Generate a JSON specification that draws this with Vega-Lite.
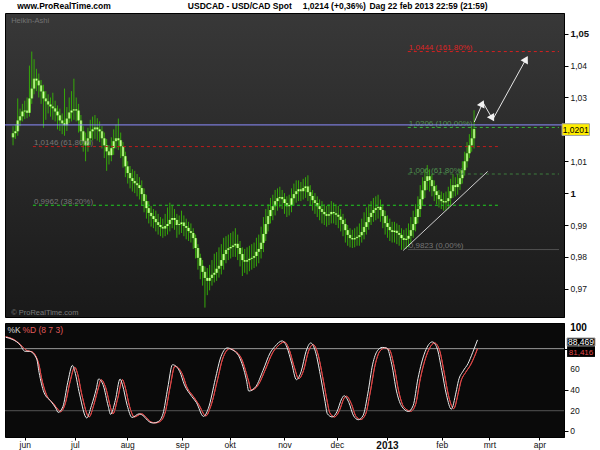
{
"$schema": "https://vega.github.io/schema/vega-lite/v6.json",
"background": "#ffffff",
"padding": {"left": 3, "top": 1, "right": 2, "bottom": 0},
"spacing": 4,
"config": {"view": {"stroke": null}, "text": {"font": "Liberation Sans"}, "axis": {"labelOverlap": false, "labelBound": false}},
"datasets": {
"ha": [
{"i":-7,"o":1.0175,"h":1.021,"l":1.015,"c":1.0188},
{"i":-6,"o":1.0188,"h":1.0215,"l":1.017,"c":1.0194},
{"i":-5,"o":1.0194,"h":1.0297,"l":1.018,"c":1.0228},
{"i":-4,"o":1.0228,"h":1.0265,"l":1.021,"c":1.0241},
{"i":-3,"o":1.0241,"h":1.028,"l":1.0225,"c":1.0256},
{"i":-2,"o":1.0256,"h":1.029,"l":1.0232,"c":1.0259},
{"i":-1,"o":1.0259,"h":1.03,"l":1.0235,"c":1.0252},
{"i":0,"o":1.0252,"h":1.04,"l":1.024,"c":1.0297},
{"i":1,"o":1.0297,"h":1.0444,"l":1.028,"c":1.0328},
{"i":2,"o":1.0328,"h":1.042,"l":1.031,"c":1.0359},
{"i":3,"o":1.0359,"h":1.039,"l":1.032,"c":1.0353},
{"i":4,"o":1.0353,"h":1.0375,"l":1.03,"c":1.0338},
{"i":5,"o":1.0338,"h":1.0355,"l":1.028,"c":1.0319},
{"i":6,"o":1.0319,"h":1.034,"l":1.0205,"c":1.0297},
{"i":7,"o":1.0297,"h":1.032,"l":1.023,"c":1.0288},
{"i":8,"o":1.0288,"h":1.031,"l":1.025,"c":1.0278},
{"i":9,"o":1.0278,"h":1.03,"l":1.024,"c":1.0272},
{"i":10,"o":1.0272,"h":1.0315,"l":1.023,"c":1.0266},
{"i":11,"o":1.0266,"h":1.029,"l":1.0225,"c":1.0256},
{"i":12,"o":1.0256,"h":1.0275,"l":1.02,"c":1.0244},
{"i":13,"o":1.0244,"h":1.0265,"l":1.0195,"c":1.0228},
{"i":14,"o":1.0228,"h":1.025,"l":1.0185,"c":1.0219},
{"i":15,"o":1.0219,"h":1.0328,"l":1.018,"c":1.0213},
{"i":16,"o":1.0213,"h":1.027,"l":1.0195,"c":1.0234},
{"i":17,"o":1.0234,"h":1.03,"l":1.022,"c":1.0253},
{"i":18,"o":1.0253,"h":1.032,"l":1.0225,"c":1.0259},
{"i":19,"o":1.0259,"h":1.0359,"l":1.023,"c":1.0263},
{"i":20,"o":1.0263,"h":1.03,"l":1.0225,"c":1.0259},
{"i":21,"o":1.0259,"h":1.028,"l":1.019,"c":1.0228},
{"i":22,"o":1.0228,"h":1.0245,"l":1.015,"c":1.0194},
{"i":23,"o":1.0194,"h":1.021,"l":1.013,"c":1.0163},
{"i":24,"o":1.0163,"h":1.019,"l":1.01,"c":1.015},
{"i":25,"o":1.015,"h":1.0205,"l":1.013,"c":1.0172},
{"i":26,"o":1.0172,"h":1.023,"l":1.015,"c":1.0194},
{"i":27,"o":1.0194,"h":1.024,"l":1.0165,"c":1.02},
{"i":28,"o":1.02,"h":1.0245,"l":1.017,"c":1.0206},
{"i":29,"o":1.0206,"h":1.0235,"l":1.0165,"c":1.02},
{"i":30,"o":1.02,"h":1.0225,"l":1.016,"c":1.0194},
{"i":31,"o":1.0194,"h":1.021,"l":1.014,"c":1.0172},
{"i":32,"o":1.0172,"h":1.019,"l":1.011,"c":1.015},
{"i":33,"o":1.015,"h":1.017,"l":1.007,"c":1.0131},
{"i":34,"o":1.0131,"h":1.015,"l":1.009,"c":1.0119},
{"i":35,"o":1.0119,"h":1.0175,"l":1.01,"c":1.0141},
{"i":36,"o":1.0141,"h":1.02,"l":1.012,"c":1.0163},
{"i":37,"o":1.0163,"h":1.0215,"l":1.014,"c":1.0172},
{"i":38,"o":1.0172,"h":1.0234,"l":1.0135,"c":1.0166},
{"i":39,"o":1.0166,"h":1.019,"l":1.011,"c":1.0147},
{"i":40,"o":1.0147,"h":1.016,"l":1.008,"c":1.0116},
{"i":41,"o":1.0116,"h":1.013,"l":1.005,"c":1.0084},
{"i":42,"o":1.0084,"h":1.01,"l":1.003,"c":1.0063},
{"i":43,"o":1.0063,"h":1.0085,"l":1.0015,"c":1.0047},
{"i":44,"o":1.0047,"h":1.0075,"l":1.0005,"c":1.0038},
{"i":45,"o":1.0038,"h":1.007,"l":1.0,"c":1.0031},
{"i":46,"o":1.0031,"h":1.006,"l":0.999,"c":1.0025},
{"i":47,"o":1.0025,"h":1.005,"l":0.998,"c":1.0016},
{"i":48,"o":1.0016,"h":1.004,"l":0.996,"c":0.9997},
{"i":49,"o":0.9997,"h":1.0015,"l":0.994,"c":0.9975},
{"i":50,"o":0.9975,"h":0.9995,"l":0.992,"c":0.9953},
{"i":51,"o":0.9953,"h":0.9975,"l":0.9905,"c":0.9938},
{"i":52,"o":0.9938,"h":0.996,"l":0.9895,"c":0.9928},
{"i":53,"o":0.9928,"h":0.995,"l":0.989,"c":0.9919},
{"i":54,"o":0.9919,"h":0.9945,"l":0.988,"c":0.9909},
{"i":55,"o":0.9909,"h":0.9935,"l":0.987,"c":0.99},
{"i":56,"o":0.99,"h":0.9925,"l":0.9865,"c":0.9894},
{"i":57,"o":0.9894,"h":0.992,"l":0.986,"c":0.9889},
{"i":58,"o":0.9889,"h":0.9935,"l":0.9865,"c":0.9897},
{"i":59,"o":0.9897,"h":0.9955,"l":0.987,"c":0.9903},
{"i":60,"o":0.9903,"h":0.997,"l":0.988,"c":0.9916},
{"i":61,"o":0.9916,"h":0.996,"l":0.989,"c":0.9922},
{"i":62,"o":0.9922,"h":0.995,"l":0.9885,"c":0.9916},
{"i":63,"o":0.9916,"h":0.9935,"l":0.986,"c":0.99},
{"i":64,"o":0.99,"h":0.993,"l":0.987,"c":0.9903},
{"i":65,"o":0.9903,"h":0.9945,"l":0.9875,"c":0.9908},
{"i":66,"o":0.9908,"h":0.993,"l":0.9865,"c":0.9897},
{"i":67,"o":0.9897,"h":0.992,"l":0.9855,"c":0.9891},
{"i":68,"o":0.9891,"h":0.991,"l":0.985,"c":0.9881},
{"i":69,"o":0.9881,"h":0.9905,"l":0.9845,"c":0.9875},
{"i":70,"o":0.9875,"h":0.989,"l":0.9825,"c":0.9859},
{"i":71,"o":0.9859,"h":0.987,"l":0.9795,"c":0.9828},
{"i":72,"o":0.9828,"h":0.984,"l":0.976,"c":0.9797},
{"i":73,"o":0.9797,"h":0.981,"l":0.973,"c":0.9772},
{"i":74,"o":0.9772,"h":0.979,"l":0.971,"c":0.9753},
{"i":75,"o":0.9753,"h":0.977,"l":0.9641,"c":0.9734},
{"i":76,"o":0.9734,"h":0.9765,"l":0.968,"c":0.9725},
{"i":77,"o":0.9725,"h":0.9775,"l":0.9695,"c":0.9734},
{"i":78,"o":0.9734,"h":0.979,"l":0.971,"c":0.9744},
{"i":79,"o":0.9744,"h":0.981,"l":0.972,"c":0.975},
{"i":80,"o":0.975,"h":0.9815,"l":0.9725,"c":0.9763},
{"i":81,"o":0.9763,"h":0.983,"l":0.9735,"c":0.9772},
{"i":82,"o":0.9772,"h":0.984,"l":0.9745,"c":0.979},
{"i":83,"o":0.979,"h":0.986,"l":0.976,"c":0.9809},
{"i":84,"o":0.9809,"h":0.9865,"l":0.978,"c":0.9822},
{"i":85,"o":0.9822,"h":0.987,"l":0.979,"c":0.9827},
{"i":86,"o":0.9827,"h":0.9875,"l":0.9795,"c":0.9831},
{"i":87,"o":0.9831,"h":0.988,"l":0.98,"c":0.9836},
{"i":88,"o":0.9836,"h":0.989,"l":0.98,"c":0.9841},
{"i":89,"o":0.9841,"h":0.987,"l":0.979,"c":0.9828},
{"i":90,"o":0.9828,"h":0.985,"l":0.977,"c":0.9809},
{"i":91,"o":0.9809,"h":0.983,"l":0.974,"c":0.979},
{"i":92,"o":0.979,"h":0.9825,"l":0.975,"c":0.9785},
{"i":93,"o":0.9785,"h":0.983,"l":0.9745,"c":0.979},
{"i":94,"o":0.979,"h":0.9835,"l":0.9755,"c":0.9794},
{"i":95,"o":0.9794,"h":0.984,"l":0.976,"c":0.9797},
{"i":96,"o":0.9797,"h":0.9845,"l":0.9765,"c":0.9803},
{"i":97,"o":0.9803,"h":0.986,"l":0.977,"c":0.9816},
{"i":98,"o":0.9816,"h":0.987,"l":0.978,"c":0.9825},
{"i":99,"o":0.9825,"h":0.9895,"l":0.9795,"c":0.9844},
{"i":100,"o":0.9844,"h":0.9925,"l":0.9815,"c":0.9872},
{"i":101,"o":0.9872,"h":0.995,"l":0.985,"c":0.9903},
{"i":102,"o":0.9903,"h":0.9965,"l":0.988,"c":0.9928},
{"i":103,"o":0.9928,"h":0.9985,"l":0.9905,"c":0.9947},
{"i":104,"o":0.9947,"h":0.9995,"l":0.9915,"c":0.9959},
{"i":105,"o":0.9959,"h":1.001,"l":0.993,"c":0.9975},
{"i":106,"o":0.9975,"h":1.0015,"l":0.9945,"c":0.9984},
{"i":107,"o":0.9984,"h":1.002,"l":0.9955,"c":0.9988},
{"i":108,"o":0.9988,"h":1.001,"l":0.995,"c":0.9981},
{"i":109,"o":0.9981,"h":1.0,"l":0.9935,"c":0.9969},
{"i":110,"o":0.9969,"h":0.999,"l":0.9925,"c":0.9959},
{"i":111,"o":0.9959,"h":0.9995,"l":0.993,"c":0.9963},
{"i":112,"o":0.9963,"h":1.0015,"l":0.994,"c":0.9984},
{"i":113,"o":0.9984,"h":1.003,"l":0.996,"c":0.9997},
{"i":114,"o":0.9997,"h":1.004,"l":0.997,"c":1.0006},
{"i":115,"o":1.0006,"h":1.004,"l":0.9975,"c":1.0012},
{"i":116,"o":1.0012,"h":1.0035,"l":0.9975,"c":1.0006},
{"i":117,"o":1.0006,"h":1.0045,"l":0.998,"c":1.0016},
{"i":118,"o":1.0016,"h":1.005,"l":0.9985,"c":1.0021},
{"i":119,"o":1.0021,"h":1.0056,"l":0.9975,"c":1.0003},
{"i":120,"o":1.0003,"h":1.0025,"l":0.996,"c":0.9991},
{"i":121,"o":0.9991,"h":1.001,"l":0.9945,"c":0.9978},
{"i":122,"o":0.9978,"h":1.0,"l":0.9935,"c":0.9969},
{"i":123,"o":0.9969,"h":0.999,"l":0.9925,"c":0.9959},
{"i":124,"o":0.9959,"h":0.998,"l":0.9915,"c":0.995},
{"i":125,"o":0.995,"h":0.9975,"l":0.9905,"c":0.9941},
{"i":126,"o":0.9941,"h":0.9965,"l":0.99,"c":0.9934},
{"i":127,"o":0.9934,"h":0.996,"l":0.9895,"c":0.9929},
{"i":128,"o":0.9929,"h":0.9965,"l":0.99,"c":0.9934},
{"i":129,"o":0.9934,"h":0.9975,"l":0.9905,"c":0.9941},
{"i":130,"o":0.9941,"h":0.997,"l":0.9905,"c":0.9937},
{"i":131,"o":0.9937,"h":0.9965,"l":0.99,"c":0.9932},
{"i":132,"o":0.9932,"h":0.996,"l":0.989,"c":0.9926},
{"i":133,"o":0.9926,"h":0.995,"l":0.988,"c":0.9916},
{"i":134,"o":0.9916,"h":0.9935,"l":0.9865,"c":0.9903},
{"i":135,"o":0.9903,"h":0.992,"l":0.9845,"c":0.9884},
{"i":136,"o":0.9884,"h":0.99,"l":0.9835,"c":0.9869},
{"i":137,"o":0.9869,"h":0.989,"l":0.983,"c":0.9859},
{"i":138,"o":0.9859,"h":0.9885,"l":0.9828,"c":0.9855},
{"i":139,"o":0.9855,"h":0.989,"l":0.983,"c":0.9859},
{"i":140,"o":0.9859,"h":0.9895,"l":0.9835,"c":0.9863},
{"i":141,"o":0.9863,"h":0.9905,"l":0.9835,"c":0.9868},
{"i":142,"o":0.9868,"h":0.992,"l":0.9845,"c":0.9878},
{"i":143,"o":0.9878,"h":0.994,"l":0.9855,"c":0.9894},
{"i":144,"o":0.9894,"h":0.9955,"l":0.987,"c":0.9909},
{"i":145,"o":0.9909,"h":0.9965,"l":0.9885,"c":0.9925},
{"i":146,"o":0.9925,"h":0.9975,"l":0.99,"c":0.9938},
{"i":147,"o":0.9938,"h":0.9985,"l":0.991,"c":0.9947},
{"i":148,"o":0.9947,"h":0.999,"l":0.9915,"c":0.9953},
{"i":149,"o":0.9953,"h":0.9995,"l":0.992,"c":0.9957},
{"i":150,"o":0.9957,"h":0.998,"l":0.991,"c":0.9947},
{"i":151,"o":0.9947,"h":0.9965,"l":0.989,"c":0.9928},
{"i":152,"o":0.9928,"h":0.9945,"l":0.987,"c":0.9906},
{"i":153,"o":0.9906,"h":0.993,"l":0.986,"c":0.9894},
{"i":154,"o":0.9894,"h":0.992,"l":0.985,"c":0.9884},
{"i":155,"o":0.9884,"h":0.991,"l":0.9845,"c":0.9878},
{"i":156,"o":0.9878,"h":0.991,"l":0.9845,"c":0.9882},
{"i":157,"o":0.9882,"h":0.9905,"l":0.984,"c":0.9875},
{"i":158,"o":0.9875,"h":0.99,"l":0.9835,"c":0.9869},
{"i":159,"o":0.9869,"h":0.989,"l":0.9822,"c":0.9859},
{"i":160,"o":0.9859,"h":0.9885,"l":0.9825,"c":0.9853},
{"i":161,"o":0.9853,"h":0.989,"l":0.9825,"c":0.9857},
{"i":162,"o":0.9857,"h":0.9905,"l":0.983,"c":0.9866},
{"i":163,"o":0.9866,"h":0.9925,"l":0.984,"c":0.9884},
{"i":164,"o":0.9884,"h":0.9945,"l":0.986,"c":0.9903},
{"i":165,"o":0.9903,"h":0.9965,"l":0.988,"c":0.9925},
{"i":166,"o":0.9925,"h":0.999,"l":0.9905,"c":0.995},
{"i":167,"o":0.995,"h":1.0025,"l":0.9925,"c":0.9981},
{"i":168,"o":0.9981,"h":1.005,"l":0.996,"c":1.0009},
{"i":169,"o":1.0009,"h":1.0075,"l":0.9985,"c":1.0038},
{"i":170,"o":1.0038,"h":1.0088,"l":1.001,"c":1.0053},
{"i":171,"o":1.0053,"h":1.0075,"l":1.0005,"c":1.0041},
{"i":172,"o":1.0041,"h":1.006,"l":0.999,"c":1.0022},
{"i":173,"o":1.0022,"h":1.004,"l":0.9975,"c":1.0006},
{"i":174,"o":1.0006,"h":1.0025,"l":0.9965,"c":0.9994},
{"i":175,"o":0.9994,"h":1.001,"l":0.9955,"c":0.9981},
{"i":176,"o":0.9981,"h":1.0005,"l":0.995,"c":0.9975},
{"i":177,"o":0.9975,"h":1.0,"l":0.9945,"c":0.9971},
{"i":178,"o":0.9971,"h":1.0005,"l":0.9945,"c":0.9975},
{"i":179,"o":0.9975,"h":1.002,"l":0.995,"c":0.9984},
{"i":180,"o":0.9984,"h":1.0045,"l":0.996,"c":1.0006},
{"i":181,"o":1.0006,"h":1.006,"l":0.9985,"c":1.0025},
{"i":182,"o":1.0025,"h":1.005,"l":0.999,"c":1.0019},
{"i":183,"o":1.0019,"h":1.006,"l":0.9995,"c":1.0028},
{"i":184,"o":1.0028,"h":1.0075,"l":1.001,"c":1.0047},
{"i":185,"o":1.0047,"h":1.01,"l":1.003,"c":1.0072},
{"i":186,"o":1.0072,"h":1.013,"l":1.0055,"c":1.01},
{"i":187,"o":1.01,"h":1.016,"l":1.008,"c":1.0125},
{"i":188,"o":1.0125,"h":1.0185,"l":1.011,"c":1.015},
{"i":189,"o":1.015,"h":1.021,"l":1.013,"c":1.0172},
{"i":190,"o":1.0172,"h":1.026,"l":1.014,"c":1.0201}
],
"fib": [
{"p":1.0444,"x1":161.7,"x2":226.3,"label":"1,0444 (161,80%)"},
{"p":1.0206,"x1":161.7,"x2":226.3,"label":"1,0206 (100,00%)"},
{"p":1.0146,"x1":1.5,"x2":200.3,"label":"1,0146 (61,80%)"},
{"p":1.006,"x1":161.7,"x2":226.3,"label":"1,006 (61,80%)"},
{"p":0.9962,"x1":1.5,"x2":200.3,"label":"0,9962 (38,20%)"},
{"p":0.9823,"x1":161.7,"x2":226.3,"label":"0,9823 (0,00%)"}
],
"arrow": [
{"i":190.1,"p":1.0223},
{"i":193.8,"p":1.02845},
{"i":198,"p":1.02311},
{"i":212.6,"p":1.04256}
],
"heads": [
{"i":193.5,"p":1.0281,"leg":"up1"},
{"i":197.8,"p":1.0235,"leg":"down"},
{"i":212.2,"p":1.0420,"leg":"up2"}
],
"stochTicks": [{"t":0},{"t":20},{"t":40},{"t":60}],
"stochK": [
{"i":-8,"v":91},{"i":-5,"v":88.7},{"i":-2,"v":83.8},{"i":0,"v":77.5},{"i":2,"v":77.4},{"i":5,"v":70},{"i":6,"v":57},{"i":8,"v":38},{"i":11,"v":29},{"i":13,"v":22.6},{"i":14,"v":18.4},{"i":16,"v":24},{"i":18,"v":47},{"i":20,"v":63.8},{"i":21,"v":58},{"i":23,"v":36},{"i":26,"v":13},{"i":28,"v":25},{"i":30,"v":41},{"i":31,"v":50.7},{"i":33,"v":44},{"i":35,"v":24.5},{"i":36,"v":16.5},{"i":38,"v":30},{"i":40,"v":50.7},{"i":41,"v":45},{"i":43,"v":25},{"i":45,"v":13.5},{"i":48,"v":17},{"i":50,"v":14.5},{"i":52,"v":9.7},{"i":54,"v":8.1},{"i":56,"v":9.5},{"i":58,"v":17},{"i":60,"v":42},{"i":62,"v":64.5},{"i":65,"v":58},{"i":67,"v":45},{"i":70,"v":34},{"i":72,"v":28},{"i":75,"v":14.5},{"i":77,"v":22},{"i":80,"v":51},{"i":82,"v":70},{"i":85,"v":80.7},{"i":87,"v":79},{"i":90,"v":72},{"i":93,"v":50},{"i":94,"v":39},{"i":97,"v":43.5},{"i":100,"v":59},{"i":103,"v":76},{"i":105,"v":82.2},{"i":108,"v":87.5},{"i":110,"v":81.5},{"i":112,"v":66},{"i":114,"v":50},{"i":116,"v":58},{"i":118,"v":77},{"i":120,"v":85.5},{"i":122,"v":77},{"i":124,"v":55},{"i":126,"v":29},{"i":127,"v":17},{"i":129,"v":14},{"i":131,"v":19},{"i":133,"v":31.5},{"i":134,"v":34.5},{"i":136,"v":28},{"i":138,"v":15},{"i":140,"v":11.3},{"i":142,"v":15.5},{"i":144,"v":37},{"i":146,"v":65},{"i":148,"v":78},{"i":150,"v":81.2},{"i":152,"v":80.5},{"i":154,"v":65},{"i":156,"v":39},{"i":158,"v":25},{"i":161,"v":19.3},{"i":163,"v":25},{"i":165,"v":51},{"i":168,"v":77},{"i":171,"v":86.5},{"i":173,"v":80.7},{"i":175,"v":59},{"i":177,"v":35},{"i":179,"v":21.5},{"i":181,"v":38},{"i":182,"v":49},{"i":184,"v":58.5},{"i":186,"v":65.5},{"i":188,"v":76.5},{"i":190,"v":88.469}
],
"stochD": [
{"i":-8,"v":91.5},{"i":-4,"v":88},{"i":-1,"v":82},{"i":1,"v":78},{"i":3,"v":77},{"i":6,"v":64},{"i":7,"v":52},{"i":9,"v":36},{"i":12,"v":27},{"i":14,"v":21},{"i":15,"v":19},{"i":17,"v":27},{"i":19,"v":48},{"i":21,"v":62},{"i":22,"v":57},{"i":24,"v":35},{"i":27,"v":14},{"i":29,"v":26},{"i":31,"v":43},{"i":32,"v":50},{"i":34,"v":42},{"i":36,"v":23},{"i":37,"v":17},{"i":39,"v":32},{"i":41,"v":50},{"i":42,"v":44},{"i":44,"v":24},{"i":46,"v":14},{"i":49,"v":17},{"i":51,"v":13.5},{"i":53,"v":9},{"i":55,"v":8.3},{"i":57,"v":10},{"i":59,"v":19},{"i":61,"v":43},{"i":63,"v":63},{"i":66,"v":56},{"i":68,"v":43},{"i":71,"v":33},{"i":73,"v":26},{"i":76,"v":15},{"i":78,"v":24},{"i":81,"v":51},{"i":83,"v":70},{"i":86,"v":80},{"i":88,"v":78},{"i":91,"v":70},{"i":94,"v":48},{"i":95,"v":40},{"i":98,"v":45},{"i":101,"v":60},{"i":104,"v":76},{"i":106,"v":82},{"i":109,"v":86.5},{"i":111,"v":79},{"i":113,"v":63},{"i":115,"v":51},{"i":117,"v":59},{"i":119,"v":77},{"i":121,"v":84},{"i":123,"v":75},{"i":125,"v":53},{"i":127,"v":28},{"i":128,"v":18},{"i":130,"v":14},{"i":132,"v":20},{"i":134,"v":32},{"i":135,"v":34},{"i":137,"v":27},{"i":139,"v":14.5},{"i":141,"v":11.5},{"i":143,"v":16.5},{"i":145,"v":38},{"i":147,"v":64},{"i":149,"v":77.5},{"i":151,"v":80.5},{"i":153,"v":79},{"i":155,"v":63},{"i":157,"v":38},{"i":159,"v":24},{"i":162,"v":19.5},{"i":164,"v":26},{"i":166,"v":51},{"i":169,"v":76},{"i":172,"v":85.5},{"i":174,"v":79},{"i":176,"v":57},{"i":178,"v":33},{"i":180,"v":22},{"i":182,"v":38},{"i":183,"v":48},{"i":185,"v":57},{"i":187,"v":64},{"i":189,"v":74},{"i":190,"v":80}
]
},
"vconcat": [
{
"width": 559, "height": 304,
"view": {"fill": {"gradient": "linear", "x1": 0, "y1": 0, "x2": 0, "y2": 1, "stops": [{"offset": 0, "color": "#383838"}, {"offset": 1, "color": "#191919"}]}, "stroke": "#000000"},
"layer": [
{"data": {"name": "ha"}, "mark": {"type": "rule", "color": "#35a80a", "strokeWidth": 1},
 "encoding": {
  "x": {"field": "i", "type": "quantitative", "scale": {"domain": [-8.3, 226.3], "nice": false, "zero": false}, "axis": null},
  "y": {"field": "l", "type": "quantitative", "title": null, "scale": {"domain": [0.96115, 1.0565], "nice": false, "zero": false},
   "axis": {"orient": "right", "title": null, "grid": false, "values": [0.97, 0.98, 0.99, 1, 1.01, 1.03, 1.04, 1.05],
    "labelExpr": "datum.value == 1 ? '1' : replace(format(datum.value, '.2f'), '.', ',')",
    "tickSize": 4, "tickColor": "#000000", "domainColor": "#000000", "labelPadding": 2, "labelOverlap": false, "labelFlush": false,
    "labelFont": "Liberation Sans", "labelColor": "#111111",
    "labelFontSize": {"condition": {"test": "datum.value == 1 || datum.value == 1.05", "value": 9.5}, "value": 8.5},
    "labelFontWeight": {"condition": {"test": "datum.value == 1 || datum.value == 1.05", "value": "bold"}, "value": "normal"}}},
  "y2": {"field": "h"}}},
{"data": {"name": "ha"}, "mark": {"type": "bar", "width": 3, "fill": {"gradient": "linear", "x1": 0, "y1": 0, "x2": 1, "y2": 0, "stops": [{"offset": 0, "color": "#3cb400"}, {"offset": 0.5, "color": "#d8ffb0"}, {"offset": 1, "color": "#3cb400"}]}},
 "encoding": {
  "x": {"field": "i", "type": "quantitative", "scale": {"domain": [-8.3, 226.3], "nice": false, "zero": false}, "axis": null},
  "y": {"field": "o", "type": "quantitative", "title": null, "scale": {"domain": [0.96115, 1.0565], "nice": false, "zero": false}},
  "y2": {"field": "c"}}},
{"data": {"name": "fib"}, "mark": {"type": "rule", "strokeWidth": 1},
 "encoding": {
  "x": {"field": "x1", "type": "quantitative", "scale": {"domain": [-8.3, 226.3], "nice": false, "zero": false}, "axis": null},
  "x2": {"field": "x2"},
  "y": {"field": "p", "type": "quantitative", "title": null, "scale": {"domain": [0.96115, 1.0565], "nice": false, "zero": false}},
  "color": {"condition": [{"test": "datum.p == 1.0444", "value": "#d42020"}, {"test": "datum.p == 1.0146", "value": "#c01c1c"}, {"test": "datum.p == 1.0206", "value": "#38b038"}, {"test": "datum.p == 1.006", "value": "#3d7d3d"}, {"test": "datum.p == 0.9962", "value": "#1fd01f"}], "value": "#5a5a5a"},
  "strokeDash": {"condition": {"test": "datum.p == 0.9823", "value": [1, 0]}, "value": [3, 3]}}},
{"data": {"name": "fib"}, "mark": {"type": "text", "align": "left", "baseline": "alphabetic", "dx": 1, "dy": -1.5, "fontSize": 8, "font": "Liberation Sans"},
 "encoding": {
  "x": {"field": "x1", "type": "quantitative", "scale": {"domain": [-8.3, 226.3], "nice": false, "zero": false}, "axis": null},
  "y": {"field": "p", "type": "quantitative", "title": null, "scale": {"domain": [0.96115, 1.0565], "nice": false, "zero": false}},
  "text": {"field": "label"},
  "color": {"condition": [{"test": "datum.p == 1.0444", "value": "#dd2424"}, {"test": "datum.p == 1.0206 || datum.p == 1.006", "value": "#4f8f4f"}], "value": "#767676"}}},
{"data": {"values": [{}]}, "mark": {"type": "rule", "color": "#8c8cff", "strokeWidth": 1},
 "encoding": {"y": {"datum": 1.0214, "type": "quantitative", "title": null, "scale": {"domain": [0.96115, 1.0565], "nice": false, "zero": false}}}},
{"data": {"values": [{}]}, "mark": {"type": "rule", "color": "#d0d0d0", "strokeWidth": 1},
 "encoding": {
  "x": {"datum": 159.7, "type": "quantitative", "scale": {"domain": [-8.3, 226.3], "nice": false, "zero": false}, "axis": null},
  "x2": {"datum": 195.8},
  "y": {"datum": 0.98202, "type": "quantitative", "title": null, "scale": {"domain": [0.96115, 1.0565], "nice": false, "zero": false}},
  "y2": {"datum": 1.0068}}},
{"data": {"name": "arrow"}, "mark": {"type": "line", "color": "#e6e6e6", "strokeWidth": 1},
 "encoding": {
  "x": {"field": "i", "type": "quantitative", "scale": {"domain": [-8.3, 226.3], "nice": false, "zero": false}, "axis": null},
  "y": {"field": "p", "type": "quantitative", "title": null, "scale": {"domain": [0.96115, 1.0565], "nice": false, "zero": false}}}},
{"data": {"name": "heads"}, "mark": {"type": "point", "shape": "triangle-up", "filled": true, "size": 70, "color": "#f2f2f2", "opacity": 1},
 "encoding": {
  "x": {"field": "i", "type": "quantitative", "scale": {"domain": [-8.3, 226.3], "nice": false, "zero": false}, "axis": null},
  "y": {"field": "p", "type": "quantitative", "title": null, "scale": {"domain": [0.96115, 1.0565], "nice": false, "zero": false}},
  "angle": {"condition": [{"test": "datum.leg == 'down'", "value": 150}, {"test": "datum.leg == 'up1'", "value": 25}], "value": 29}}},
{"data": {"values": [{}]}, "mark": {"type": "text", "align": "left", "baseline": "middle", "fontSize": 7.5, "color": "#737373", "font": "Liberation Sans"},
 "encoding": {
  "x": {"datum": -7.8, "type": "quantitative", "scale": {"domain": [-8.3, 226.3], "nice": false, "zero": false}, "axis": null},
  "y": {"datum": 1.05402, "type": "quantitative", "title": null, "scale": {"domain": [0.96115, 1.0565], "nice": false, "zero": false}},
  "text": {"value": "Heikin-Ashi"}}},
{"data": {"values": [{}]}, "mark": {"type": "text", "align": "left", "baseline": "middle", "fontSize": 7.5, "color": "#7a7a7a", "font": "Liberation Sans"},
 "encoding": {
  "x": {"datum": -7.8, "type": "quantitative", "scale": {"domain": [-8.3, 226.3], "nice": false, "zero": false}, "axis": null},
  "y": {"datum": 0.96235, "type": "quantitative", "title": null, "scale": {"domain": [0.96115, 1.0565], "nice": false, "zero": false}},
  "text": {"value": "© ProRealTime.com"}}},
{"data": {"values": [{}]}, "mark": {"type": "text", "align": "left", "baseline": "middle", "fontSize": 8.5, "fontWeight": "bold", "color": "#000000", "font": "Liberation Sans"},
 "encoding": {
  "x": {"datum": -5.2, "type": "quantitative", "scale": {"domain": [-8.3, 226.3], "nice": false, "zero": false}, "axis": null},
  "y": {"datum": 1.05856, "type": "quantitative", "title": null, "scale": {"domain": [0.96115, 1.0565], "nice": false, "zero": false}},
  "text": {"value": "www.ProRealTime.com"}}},
{"data": {"values": [{}]}, "mark": {"type": "text", "align": "left", "baseline": "middle", "fontSize": 8.5, "fontWeight": "bold", "color": "#000000", "font": "Liberation Sans"},
 "encoding": {
  "x": {"datum": 67.7, "type": "quantitative", "scale": {"domain": [-8.3, 226.3], "nice": false, "zero": false}, "axis": null},
  "y": {"datum": 1.05856, "type": "quantitative", "title": null, "scale": {"domain": [0.96115, 1.0565], "nice": false, "zero": false}},
  "text": {"value": "USDCAD - USD/CAD Spot"}}},
{"data": {"values": [{}]}, "mark": {"type": "text", "align": "left", "baseline": "middle", "fontSize": 8.5, "fontWeight": "bold", "color": "#000000", "font": "Liberation Sans"},
 "encoding": {
  "x": {"datum": 116.8, "type": "quantitative", "scale": {"domain": [-8.3, 226.3], "nice": false, "zero": false}, "axis": null},
  "y": {"datum": 1.05856, "type": "quantitative", "title": null, "scale": {"domain": [0.96115, 1.0565], "nice": false, "zero": false}},
  "text": {"value": "1,0214 (+0,36%)"}}},
{"data": {"values": [{}]}, "mark": {"type": "text", "align": "left", "baseline": "middle", "fontSize": 8.5, "fontWeight": "bold", "color": "#000000", "font": "Liberation Sans"},
 "encoding": {
  "x": {"datum": 145.3, "type": "quantitative", "scale": {"domain": [-8.3, 226.3], "nice": false, "zero": false}, "axis": null},
  "y": {"datum": 1.05856, "type": "quantitative", "title": null, "scale": {"domain": [0.96115, 1.0565], "nice": false, "zero": false}},
  "text": {"value": "Dag  22 feb 2013 22:59 (21:59)"}}},
{"data": {"values": [{}]}, "mark": {"type": "rect", "fill": "#ffee00", "stroke": "#a0a0a0", "strokeWidth": 1},
 "encoding": {
  "x": {"datum": 227.6, "type": "quantitative", "scale": {"domain": [-8.3, 226.3], "nice": false, "zero": false}, "axis": null},
  "x2": {"datum": 239.3},
  "y": {"datum": 1.02176, "type": "quantitative", "title": null, "scale": {"domain": [0.96115, 1.0565], "nice": false, "zero": false}},
  "y2": {"datum": 1.01809}}},
{"data": {"values": [{}]}, "mark": {"type": "text", "align": "center", "baseline": "middle", "fontSize": 8.5, "color": "#000000", "font": "Liberation Sans"},
 "encoding": {
  "x": {"datum": 233.45, "type": "quantitative", "scale": {"domain": [-8.3, 226.3], "nice": false, "zero": false}, "axis": null},
  "y": {"datum": 1.01993, "type": "quantitative", "title": null, "scale": {"domain": [0.96115, 1.0565], "nice": false, "zero": false}},
  "text": {"value": "1,0201"}}}
]
},
{
"width": 559, "height": 114,
"view": {"fill": "#0a0a0a", "stroke": "#000000"},
"layer": [
{"data": {"name": "stochD"}, "mark": {"type": "line", "color": "#e04848", "strokeWidth": 1, "interpolate": "monotone"},
 "encoding": {
  "x": {"field": "i", "type": "quantitative", "title": null, "scale": {"domain": [-8.3, 226.3], "nice": false, "zero": false},
   "axis": {"orient": "bottom", "title": null, "grid": false, "domain": false, "values": [0, 21, 43, 66, 86, 109, 131, 152, 175, 195, 216],
    "labelExpr": "['jun','jul','aug','sep','okt','nov','dec','2013','feb','mrt','apr'][indexof([0,21,43,66,86,109,131,152,175,195,216], datum.value)]",
    "tickSize": 3, "tickColor": "#000000", "labelPadding": 0, "labelOverlap": false, "labelFlush": false,
    "labelFont": "Liberation Sans", "labelColor": "#111111",
    "labelFontSize": {"condition": {"test": "datum.value == 152", "value": 10}, "value": 8.5},
    "labelFontWeight": {"condition": {"test": "datum.value == 152", "value": "bold"}, "value": "normal"}}},
  "y": {"field": "v", "type": "quantitative", "title": null, "scale": {"domain": [-5.4, 104.8], "nice": false, "zero": false},
   "axis": {"orient": "right", "title": null, "grid": false, "values": [0, 20, 40, 60, 80, 100], "labels": false,
    "tickSize": 4, "tickColor": "#000000", "domainColor": "#000000"}}}},
{"data": {"values": [{}]}, "mark": {"type": "rule", "color": "#9a9a9a", "strokeWidth": 1},
 "encoding": {"y": {"datum": 80, "type": "quantitative", "title": null, "scale": {"domain": [-5.4, 104.8], "nice": false, "zero": false}}}},
{"data": {"values": [{}]}, "mark": {"type": "rule", "color": "#555555", "strokeWidth": 1},
 "encoding": {"y": {"datum": 20, "type": "quantitative", "title": null, "scale": {"domain": [-5.4, 104.8], "nice": false, "zero": false}}}},
{"data": {"name": "stochD"}, "mark": {"type": "line", "color": "#e04848", "strokeWidth": 1, "interpolate": "monotone"},
 "encoding": {
  "x": {"field": "i", "type": "quantitative", "title": null, "scale": {"domain": [-8.3, 226.3], "nice": false, "zero": false}},
  "y": {"field": "v", "type": "quantitative", "title": null, "scale": {"domain": [-5.4, 104.8], "nice": false, "zero": false}}}},
{"data": {"name": "stochK"}, "mark": {"type": "line", "color": "#ebebeb", "strokeWidth": 1, "interpolate": "monotone"},
 "encoding": {
  "x": {"field": "i", "type": "quantitative", "title": null, "scale": {"domain": [-8.3, 226.3], "nice": false, "zero": false}},
  "y": {"field": "v", "type": "quantitative", "title": null, "scale": {"domain": [-5.4, 104.8], "nice": false, "zero": false}}}},
{"data": {"name": "stochTicks"}, "mark": {"type": "text", "align": "left", "baseline": "middle", "fontSize": 8.5, "color": "#111111", "font": "Liberation Sans"},
 "encoding": {
  "x": {"datum": 228.9, "type": "quantitative", "title": null, "scale": {"domain": [-8.3, 226.3], "nice": false, "zero": false}},
  "y": {"field": "t", "type": "quantitative", "title": null, "scale": {"domain": [-5.4, 104.8], "nice": false, "zero": false}},
  "text": {"field": "t", "type": "quantitative"}}},
{"data": {"values": [{}]}, "mark": {"type": "text", "align": "left", "baseline": "middle", "fontSize": 10, "fontWeight": "bold", "color": "#000000", "font": "Liberation Sans"},
 "encoding": {
  "x": {"datum": 228.9, "type": "quantitative", "title": null, "scale": {"domain": [-8.3, 226.3], "nice": false, "zero": false}},
  "y": {"datum": 100, "type": "quantitative", "title": null, "scale": {"domain": [-5.4, 104.8], "nice": false, "zero": false}},
  "text": {"value": "100"}}},
{"data": {"values": [{}]}, "mark": {"type": "text", "align": "left", "baseline": "middle", "fontSize": 8.5, "color": "#d8d8d8", "font": "Liberation Sans"},
 "encoding": {
  "x": {"datum": -7.3, "type": "quantitative", "title": null, "scale": {"domain": [-8.3, 226.3], "nice": false, "zero": false}},
  "y": {"datum": 98.4, "type": "quantitative", "title": null, "scale": {"domain": [-5.4, 104.8], "nice": false, "zero": false}},
  "text": {"value": "%K"}}},
{"data": {"values": [{}]}, "mark": {"type": "text", "align": "left", "baseline": "middle", "fontSize": 8.5, "color": "#e05a5a", "font": "Liberation Sans"},
 "encoding": {
  "x": {"datum": -1.0, "type": "quantitative", "title": null, "scale": {"domain": [-8.3, 226.3], "nice": false, "zero": false}},
  "y": {"datum": 98.4, "type": "quantitative", "title": null, "scale": {"domain": [-5.4, 104.8], "nice": false, "zero": false}},
  "text": {"value": "%D (8 7 3)"}}},
{"data": {"values": [{}]}, "mark": {"type": "rect", "fill": "#000000"},
 "encoding": {
  "x": {"datum": 227.6, "type": "quantitative", "title": null, "scale": {"domain": [-8.3, 226.3], "nice": false, "zero": false}},
  "x2": {"datum": 239.3},
  "y": {"datum": 90.3, "type": "quantitative", "title": null, "scale": {"domain": [-5.4, 104.8], "nice": false, "zero": false}},
  "y2": {"datum": 72}}},
{"data": {"values": [{}]}, "mark": {"type": "text", "align": "center", "baseline": "middle", "fontSize": 8, "color": "#e04848", "font": "Liberation Sans"},
 "encoding": {
  "x": {"datum": 233.45, "type": "quantitative", "title": null, "scale": {"domain": [-8.3, 226.3], "nice": false, "zero": false}},
  "y": {"datum": 76.2, "type": "quantitative", "title": null, "scale": {"domain": [-5.4, 104.8], "nice": false, "zero": false}},
  "text": {"value": "81,416"}}},
{"data": {"values": [{}]}, "mark": {"type": "rect", "fill": "#000000", "stroke": "#9a9a9a", "strokeWidth": 1},
 "encoding": {
  "x": {"datum": 227.6, "type": "quantitative", "title": null, "scale": {"domain": [-8.3, 226.3], "nice": false, "zero": false}},
  "x2": {"datum": 239.3},
  "y": {"datum": 90.3, "type": "quantitative", "title": null, "scale": {"domain": [-5.4, 104.8], "nice": false, "zero": false}},
  "y2": {"datum": 82.6}}},
{"data": {"values": [{}]}, "mark": {"type": "text", "align": "center", "baseline": "middle", "fontSize": 8.5, "color": "#ffffff", "font": "Liberation Sans"},
 "encoding": {
  "x": {"datum": 233.45, "type": "quantitative", "title": null, "scale": {"domain": [-8.3, 226.3], "nice": false, "zero": false}},
  "y": {"datum": 86.6, "type": "quantitative", "title": null, "scale": {"domain": [-5.4, 104.8], "nice": false, "zero": false}},
  "text": {"value": "88,469"}}}
]
}
]
}
